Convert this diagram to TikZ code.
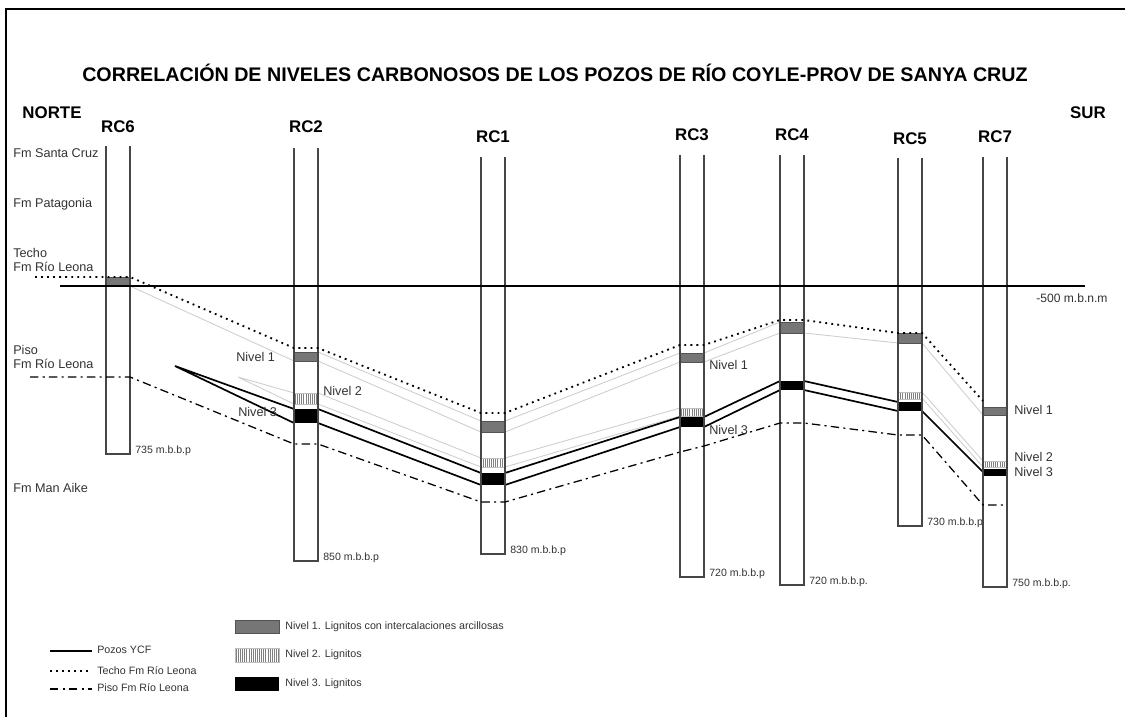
\documentclass[tikz,border=0pt]{standalone}
\usepackage{fontspec}
\setmainfont{Liberation Sans}
\usepackage{xcolor}
\definecolor{wellline}{RGB}{70, 70, 70}
\definecolor{coal}{RGB}{118, 118, 118}
\definecolor{corr}{RGB}{205, 205, 205}
\definecolor{labeltext}{RGB}{50, 50, 50}
\usetikzlibrary{patterns.meta, positioning}
\tikzstyle{well} = [draw=wellline, line width=0.85pt]
\tikzstyle{techo} = [line width=1.3pt, dash pattern=on 1.3pt off 3pt]
\tikzstyle{piso} = [line width=0.9pt, dash pattern=on 6pt off 3pt on 1.5pt off 3pt]
\tikzstyle{pozo} = [line width=1.2pt]
\tikzstyle{corrline} = [draw=corr, line width=0.6pt]
\tikzstyle{nivelA} = [fill=coal, draw=coal!70!black, line width=0.3pt]
\tikzstyle{nivelB} = [pattern={Lines[angle=90,distance=1.5pt,line width=0.45pt]}, pattern color=gray, draw=gray!50, line width=0.3pt]
\tikzstyle{nivelC} = [fill=black]
\tikzstyle{heading} = [font=\bfseries\fontsize{12}{14}\selectfont, inner sep=0pt]
\tikzstyle{fm} = [font=\fontsize{9}{10}\selectfont, text=labeltext, anchor=west, inner sep=0pt]
\tikzstyle{depth} = [font=\fontsize{7.5}{9}\selectfont, text=labeltext, anchor=base west, inner sep=0pt]
\tikzstyle{legend} = [font=\fontsize{7.6}{9}\selectfont, text=labeltext, anchor=west, inner sep=0pt]

\begin{document}
\begin{tikzpicture}[x=0.025cm, y=-0.025cm]
    \useasboundingbox (0,0) rectangle (1125,717);
    % frame
    \draw[line width=1.1pt] (6,717) -- (6,9) -- (1125,9);

    \node[heading, font=\bfseries\fontsize{14}{16}\selectfont] (title) at (555,73) {CORRELACIÓN DE NIVELES CARBONOSOS DE LOS POZOS DE RÍO COYLE-PROV DE SANYA CRUZ};
    \node[heading] (norte) at (52,113) {NORTE};
    \node[heading] (sur) at (1088,113) {SUR};

    % formations
    \node[fm] (stacruz) at (13,153) {Fm Santa Cruz};
    \node[fm] (patagonia) at (13,204) {Fm Patagonia};
    \node[fm] (techo) at (13,253) {Techo};
    \node[fm] (techoleona) at (13,267) {Fm Río Leona};
    \node[fm] (piso) at (13,350) {Piso};
    \node[fm] (pisoleona) at (13,364) {Fm Río Leona};
    \node[fm] (manaike) at (13,488) {Fm Man Aike};

    % correlation of levels 1 and 2
    \draw[corrline] (130,286) -- (294,361) (318,361) -- (481,432) (505,432) -- (680,362) (704,362) -- (780,333) (804,333) -- (898,343) (922,343) -- (983,415);
    \draw[corrline] (318,352) -- (481,421) (505,421) -- (680,353) (704,353) -- (780,322);
    \draw[corrline] (294,393) -- (238,377) -- (294,404);
    \draw[corrline] (318,393) -- (481,458) (318,404) -- (481,467);
    \draw[corrline] (505,458) -- (680,408) (505,467) -- (680,416);
    \draw[corrline] (922,392) -- (983,461) (922,398) -- (983,467);

    % level 3
    \draw[pozo] (294,409) -- (175,366) -- (294,423);
    \draw[pozo] (318,409) -- (481,473) (318,423) -- (481,485);
    \draw[pozo] (505,473) -- (680,417) (505,485) -- (680,427);
    \draw[pozo] (704,417) -- (780,381) (704,427) -- (780,390);
    \draw[pozo] (804,381) -- (898,402) (804,390) -- (898,411);
    \draw[pozo] (922,411) -- (983,472);

    % coal levels
    \foreach \xl/\ya/\yb in {106/277/286, 294/352/361, 481/421/432, 680/353/362, 780/322/333, 898/333/343, 983/407/415}
        \filldraw[nivelA] (\xl,\ya) rectangle ({\xl+24},\yb);
    \foreach \xl/\ya/\yb in {294/393/404, 481/458/467, 680/408/416, 898/392/399, 983/461/467}
        \filldraw[nivelB] (\xl,\ya) rectangle ({\xl+24},\yb);
    \foreach \xl/\ya/\yb in {294/409/423, 481/473/485, 680/417/427, 780/381/390, 898/402/411, 983/469/476}
        \fill[nivelC] (\xl,\ya) rectangle ({\xl+24},\yb);

    % wells
    \foreach \name/\xl/\top/\bot/\ly/\dep in {RC6/106/146/454/127/{735 m.b.b.p}, RC2/294/148/561/127/{850 m.b.b.p}, RC1/481/157/554/137/{830 m.b.b.p}, RC3/680/155/577/135/{720 m.b.b.p}, RC4/780/155/585/135/{720 m.b.b.p.}, RC5/898/158/526/139/{730 m.b.b.p}, RC7/983/157/587/137/{750 m.b.b.p.}} {
        \draw[well] (\xl,\top) -- (\xl,\bot) -- ({\xl+24},\bot) -- ({\xl+24},\top);
        \node[heading] (\name) at ({\xl+12},\ly) {\name};
        \node[depth] at ({\xl+29},{\bot-1}) {\dep};
    }

    % reference level, top and base of Rio Leona
    \draw[line width=1.1pt] (60,286) -- (1085,286);
    \node[legend, font=\fontsize{8.6}{10}\selectfont] (msnm) at (1036,298) {-500 m.b.n.m};
    \draw[techo] (35,277) -- (130,277) -- (294,348) -- (318,348) -- (481,413) -- (505,413) -- (680,345) -- (704,345) -- (780,320) -- (804,320) -- (898,333) -- (922,333) -- (983,401);
    \draw[piso] (30,377) -- (130,377) -- (294,444) -- (318,444) -- (481,502) -- (505,502) -- (680,452) -- (704,446) -- (780,423) -- (804,423) -- (898,435) -- (922,435) -- (983,505) -- (1007,505);

    % level labels
    \node[fm] at (236,357) {Nivel 1};
    \node[fm] at (323,391) {Nivel 2};
    \node[fm] at (238,412) {Nivel 3};
    \node[fm] at (709,365) {Nivel 1};
    \node[fm] at (709,430) {Nivel 3};
    \node[fm] at (1014,410) {Nivel 1};
    \node[fm] at (1014,457) {Nivel 2};
    \node[fm] at (1014,472) {Nivel 3};

    % legend
    \draw[pozo, line width=0.9pt] (50,651) -- (92,651);
    \node[legend] at (97,650) {Pozos YCF};
    \draw[techo, line width=1pt] (50,671) -- (92,671);
    \node[legend] at (97,671) {Techo Fm Río Leona};
    \draw[piso, line width=0.9pt] (50,689) -- (92,689);
    \node[legend] at (97,688) {Piso Fm Río Leona};
    \filldraw[nivelA] (235,620) rectangle (279,633);
    \node[legend] at (285,627) {Nivel 1. Lignitos con intercalaciones arcillosas};
    \filldraw[nivelB] (235,648) rectangle (279,662);
    \node[legend] at (285,655) {Nivel 2. Lignitos};
    \fill[nivelC] (235,677) rectangle (279,691);
    \node[legend] at (285,684) {Nivel 3. Lignitos};
\end{tikzpicture}
\end{document}
